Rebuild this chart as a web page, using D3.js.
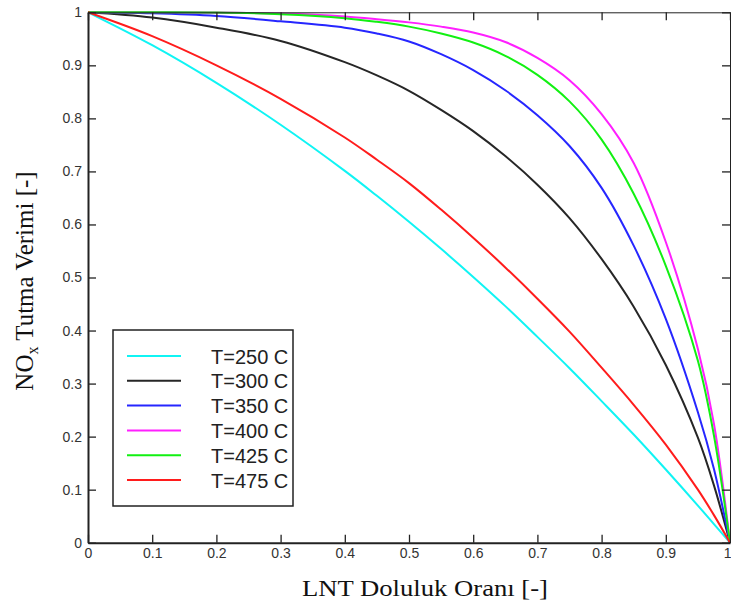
<!DOCTYPE html>
<html>
<head>
<meta charset="utf-8">
<script src="https://cdn.jsdelivr.net/npm/d3@7"></script>
<style>
  body { margin: 0; background: #fff; }
  svg { display: block; }
</style>
</head>
<body>
<div id="chart"></div>
<script>
// fill ratio grid (x) shared by every curve
const fillRatio = [0, 0.1, 0.2, 0.3, 0.4, 0.45, 0.5, 0.55, 0.6, 0.65, 0.7, 0.75, 0.8, 0.85, 0.9, 0.95, 0.975, 1];

// NOx trapping efficiency, one array per temperature
const eff250 = [1, 0.938, 0.867, 0.788, 0.701, 0.654, 0.605, 0.554, 0.501, 0.446, 0.388, 0.329, 0.267, 0.204, 0.138, 0.07, 0.035, 0];
const eff300 = [1, 0.99, 0.971, 0.946, 0.906, 0.881, 0.852, 0.816, 0.776, 0.729, 0.675, 0.612, 0.535, 0.445, 0.335, 0.198, 0.108, 0];
const eff350 = [1, 0.998, 0.993, 0.983, 0.971, 0.96, 0.945, 0.921, 0.891, 0.853, 0.806, 0.748, 0.669, 0.56, 0.422, 0.246, 0.139, 0];
const eff400 = [1, 1, 0.9997, 0.9976, 0.992, 0.987, 0.981, 0.973, 0.962, 0.944, 0.914, 0.872, 0.808, 0.716, 0.567, 0.365, 0.224, 0];
const eff425 = [1, 1, 0.9995, 0.9965, 0.989, 0.982, 0.973, 0.96, 0.943, 0.918, 0.882, 0.832, 0.76, 0.658, 0.522, 0.343, 0.202, 0];
const eff475 = [1, 0.955, 0.9, 0.837, 0.764, 0.722, 0.678, 0.628, 0.575, 0.519, 0.46, 0.398, 0.33, 0.26, 0.185, 0.1, 0.052, 0];

const seriesNames = ["T=250 C", "T=300 C", "T=350 C", "T=400 C", "T=425 C", "T=475 C"];
const seriesValues = [eff250, eff300, eff350, eff400, eff425, eff475];
const seriesColors = ["#10f4f4", "#262626", "#2626ff", "#ff1fff", "#12f012", "#ff1c1c"];

const tickValues = [0, 0.1, 0.2, 0.3, 0.4, 0.5, 0.6, 0.7, 0.8, 0.9, 1];
const tickLabels = ["0", "0.1", "0.2", "0.3", "0.4", "0.5", "0.6", "0.7", "0.8", "0.9", "1"];

const width = 731;
const height = 608;
const plot = { left: 88, right: 730, top: 12.3, bottom: 542.7 };

const svg = d3
  .select("#chart")
  .append("svg")
  .attr("width", width)
  .attr("height", height);

const x = d3.scaleLinear().domain([0, 1]).range([plot.left, plot.right]);
const y = d3.scaleLinear().domain([0, 1]).range([plot.bottom, plot.top]);

const fmt = (d) => tickLabels[tickValues.indexOf(d)];

// curves
const line = d3
  .line()
  .x((d) => x(d[0]))
  .y((d) => y(d[1]))
  .curve(d3.curveCatmullRom.alpha(0.5));

svg
  .append("g")
  .selectAll("path")
  .data(seriesValues)
  .join("path")
  .attr("d", (vals) => line(fillRatio.map((f, i) => [f, vals[i]])))
  .attr("fill", "none")
  .attr("stroke", (d, i) => seriesColors[i])
  .attr("stroke-width", 2);

// axes, ticks pointing inward on all four sides
const styleAxis = (g, w) => {
  g.select(".domain").attr("stroke", "#222").attr("stroke-width", w);
  g.selectAll(".tick line").attr("stroke", "#222").attr("stroke-width", 1.3);
  g.selectAll("text")
    .attr("fill", "#333")
    .style("font-family", "Liberation Sans, Arial, sans-serif")
    .style("font-size", "14px");
};

svg
  .append("g")
  .attr("transform", `translate(0,${plot.top})`)
  .call(d3.axisTop(x).tickValues(tickValues).tickSize(-8).tickSizeOuter(0).tickFormat(""))
  .call((g) => styleAxis(g, 1));

svg
  .append("g")
  .attr("transform", `translate(${plot.right},0)`)
  .call(d3.axisRight(y).tickValues(tickValues).tickSize(-8).tickSizeOuter(0).tickFormat(""))
  .call((g) => styleAxis(g, 1));

const xAxisG = svg
  .append("g")
  .attr("transform", `translate(0,${plot.bottom})`)
  .call(d3.axisBottom(x).tickValues(tickValues).tickSize(-8).tickSizeOuter(0).tickPadding(5).tickFormat(fmt))
  .call((g) => styleAxis(g, 2));
// the last label sits on the window edge, keep it inside
xAxisG.selectAll(".tick text").filter((d) => d === 1).attr("text-anchor", "end").attr("dx", 1);

svg
  .append("g")
  .attr("transform", `translate(${plot.left},0)`)
  .call(d3.axisLeft(y).tickValues(tickValues).tickSize(-8).tickSizeOuter(0).tickPadding(6).tickFormat(fmt))
  .call((g) => styleAxis(g, 2));

// axis titles
svg
  .append("text")
  .attr("x", 425)
  .attr("y", 596)
  .attr("text-anchor", "middle")
  .attr("textLength", 246)
  .attr("lengthAdjust", "spacingAndGlyphs")
  .style("font-family", "Liberation Serif, Times New Roman, serif")
  .style("font-size", "24px")
  .attr("fill", "#111")
  .text("LNT Doluluk Oranı [-]");

const yTitle = svg
  .append("text")
  .attr("transform", "translate(33,281) rotate(-90)")
  .attr("text-anchor", "middle")
  .style("font-family", "Liberation Serif, Times New Roman, serif")
  .style("font-size", "25px")
  .attr("fill", "#111");
yTitle.append("tspan").text("NO");
yTitle.append("tspan").attr("dy", 5).style("font-size", "16px").text("x");
yTitle.append("tspan").attr("dy", -5).text(" Tutma Verimi [-]");

// legend
const legend = svg.append("g").attr("transform", "translate(113,330)");
legend
  .append("rect")
  .attr("width", 180)
  .attr("height", 176)
  .attr("fill", "#fff")
  .attr("stroke", "#222")
  .attr("stroke-width", 1.5);

const rows = legend
  .selectAll("g.row")
  .data(seriesNames)
  .join("g")
  .attr("class", "row")
  .attr("transform", (d, i) => `translate(0,${26 + i * 24.8})`);

rows
  .append("line")
  .attr("x1", 14)
  .attr("x2", 68)
  .attr("stroke", (d, i) => seriesColors[i])
  .attr("stroke-width", 2);

rows
  .append("text")
  .attr("x", 98)
  .attr("y", 7.5)
  .style("font-family", "Liberation Sans, Arial, sans-serif")
  .style("font-size", "20px")
  .attr("fill", "#222")
  .text((d) => d);
</script>
</body>
</html>
